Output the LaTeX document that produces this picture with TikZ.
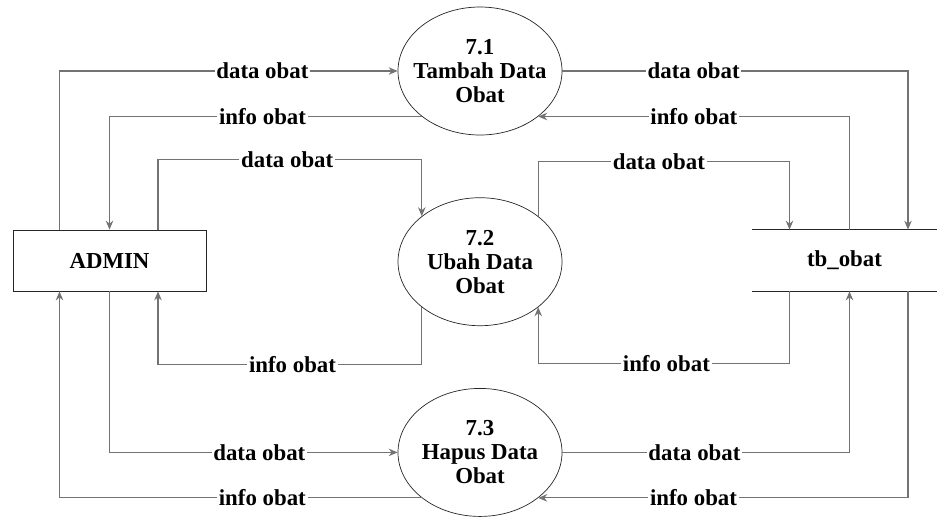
\documentclass[tikz,border=0pt]{standalone}
\usepackage{fontspec}
\setmainfont{Liberation Serif}
\usetikzlibrary{arrows.meta, positioning, shapes.geometric}
\tikzset{
  ent/.style={draw=black!85, minimum width=3.86cm, minimum height=1.22cm},
  proc/.style={draw=black!85, ellipse, minimum width=3.28cm, minimum height=2.56cm, align=center,
    inner xsep=-0.6cm, inner ysep=-0.4cm},
  store/.style={minimum width=3.7cm, minimum height=1.22cm},
  arr/.style={-{Stealth[length=1.8mm, width=1.5mm]}, draw=black!55, line width=0.6pt},
  lbl/.style={fill=white, inner sep=1pt},
}
\begin{document}
\begin{tikzpicture}[node distance=1.24cm, font=\fontsize{13}{13.6}\selectfont\bfseries]
  \useasboundingbox (0,0) rectangle (18.74,-10.32);
  \node[proc] (p1) at (9.6,-1.42) {7.1\\Tambah Data\\Obat};
  \node[proc, below=of p1] (p2) {7.2\\Ubah Data\\Obat};
  \node[proc, below=of p2] (p3) {7.3\\Hapus Data\\Obat};
  \node[ent] (admin) at (2.19,-5.21) {ADMIN};
  \node[store] (tb) at (16.89,-5.21) {tb\_obat};
  \draw[draw=black!85] (tb.north west) -- (tb.north east) (tb.south west) -- (tb.south east);
  % admin - 7.1
  \draw[arr] ([xshift=-1cm]admin.north) |- node[lbl, pos=0.8] {data obat} (p1.west);
  \draw[arr] (p1.218) -| node[lbl, pos=0.255] {info obat} (admin.north);
  % admin - 7.2
  \draw[arr] ([xshift=0.97cm]admin.north) -- ++(0,1.4) -| node[lbl, pos=0.245] {data obat} (p2.142);
  \draw[arr] (p2.218) -- ++(0,-1.155) -| node[lbl, pos=0.245] {info obat} ([xshift=0.97cm]admin.south);
  % admin - 7.3
  \draw[arr] (admin.south) |- node[lbl, pos=0.76] {data obat} (p3.west);
  \draw[arr] (p3.218) -| node[lbl, pos=0.22] {info obat} ([xshift=-1cm]admin.south);
  % 7.1 - tb_obat
  \draw[arr] (p1.east) -| node[lbl, pos=0.19] {data obat} ([xshift=1.27cm]tb.north);
  \draw[arr] ([xshift=0.1cm]tb.north) |- node[lbl, pos=0.75] {info obat} (p1.322);
  % 7.2 - tb_obat
  \draw[arr] (p2.38) -- ++(0,1.095) -| node[lbl, pos=0.24] {data obat} ([xshift=-1.1cm]tb.north);
  \draw[arr] ([xshift=-1.1cm]tb.south) -- ++(0,-1.44) -| node[lbl, pos=0.245] {info obat} (p2.322);
  % 7.3 - tb_obat
  \draw[arr] (p3.east) -| node[lbl, pos=0.23] {data obat} ([xshift=0.1cm]tb.south);
  \draw[arr] ([xshift=1.27cm]tb.south) |- node[lbl, pos=0.79] {info obat} (p3.322);
\end{tikzpicture}
\end{document}
